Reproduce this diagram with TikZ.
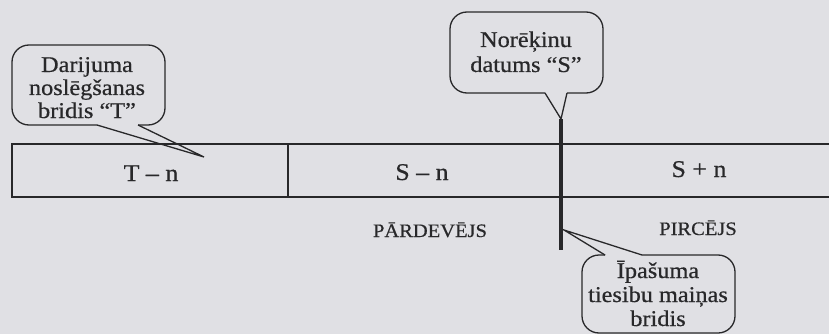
\documentclass[tikz,border=0pt]{standalone}
\usepackage{fontspec}
\setmainfont{Liberation Serif}[FakeStretch=1.08,FakeBold=0.6]
\definecolor{bg}{RGB}{224,224,228}
\definecolor{ink}{RGB}{40,40,42}
\begin{document}
\begin{tikzpicture}[x=1pt,y=-1pt,
  ink/.style={draw=ink,line width=1.5pt},
  bubble/.style={draw=ink,line width=1.3pt,rounded corners=17pt},
  tail/.style={draw=ink,line width=1.3pt,line join=miter},
  btxt/.style={text=ink,anchor=base,inner sep=0pt,font=\fontsize{22.5}{24}\selectfont},
  stxt/.style={text=ink,anchor=base,inner sep=0pt,font=\fontsize{24}{26}\selectfont},
  ptxt/.style={text=ink,anchor=base,inner sep=0pt,font=\fontsize{19}{21}\selectfont}]
\fill[bg] (0,0) rectangle (829,334);
\useasboundingbox (0,0) rectangle (829,334);

% key points
\coordinate (Ttip) at (204,157);
\coordinate (Stop) at (561,119);
\coordinate (Sbot) at (561,250);
\coordinate (Ptip) at (564,230);

% bubble 1
\draw[bubble] (97,125) -- (12,125) -- (12,45) -- (165,45) -- (165,125) -- (138,125);
\draw[tail] (97,125) -- (Ttip) -- (138,125);
\node[btxt] (b1a) at (87,72) {Darijuma};
\node[btxt] (b1b) at (87,95) {noslēgšanas};
\node[btxt] (b1c) at (87,118) {bridis “T”};

% bubble 2
\draw[bubble] (545,93) -- (450,93) -- (450,12) -- (603,12) -- (603,93) -- (567,93);
\draw[tail] (545,93) -- (Stop) -- (567,93);
\node[btxt] (b2a) at (526,47) {Norēķinu};
\node[btxt] (b2b) at (526,72) {datums “S”};

% bubble 3
\draw[bubble] (605,255) -- (582,255) -- (582,333) -- (735,333) -- (735,255) -- (642,255);
\draw[tail] (605,255) -- (Ptip) -- (642,255);
\node[btxt] (b3a) at (658,278) {Īpašuma};
\node[btxt] (b3b) at (658,302) {tiesibu maiņas};
\node[btxt] (b3c) at (658,326) {bridis};

% strip
\coordinate (TL) at (12,144);
\coordinate (BL) at (12,197);
\coordinate (TR) at (830,144);
\coordinate (BR) at (830,197);
\draw[ink] (TR) -- (TL) -- (BL) -- (BR);
\draw[draw=ink,line width=2pt] (288,144) -- (288,197);
\draw[draw=ink,line width=3.6pt] (Stop) -- (Sbot);

\node[stxt] (tn) at (151,181) {T – n};
\node[stxt] (sn) at (422,180) {S – n};
\node[stxt] (sp) at (699,177) {S + n};
\node[ptxt] (pard) at (430,237) {PĀRDEVĒJS};
\node[ptxt] (pirc) at (698,235) {PIRCĒJS};
\end{tikzpicture}
\end{document}
